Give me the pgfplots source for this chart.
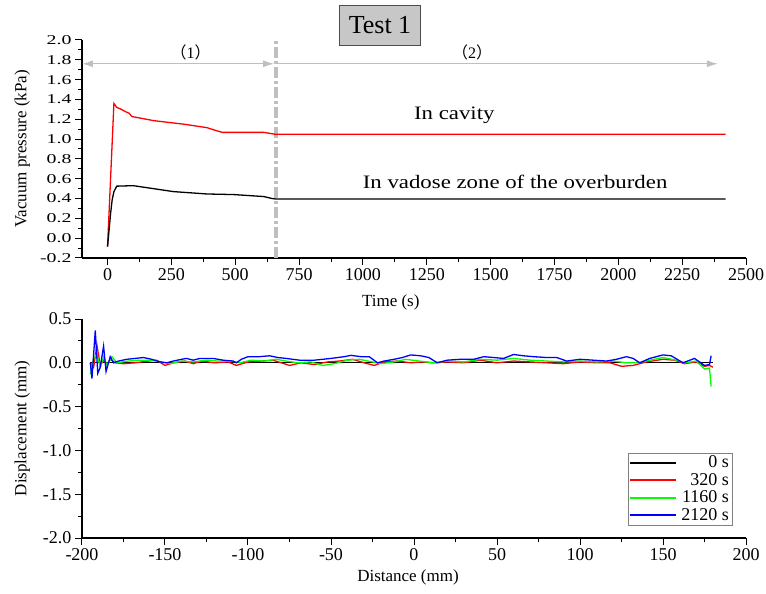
\documentclass[border=0pt]{standalone}
\usepackage{fontspec}
\setmainfont{Liberation Serif}
\newfontfamily\cjk{Noto Sans CJK SC}
\newfontfamily\widefont{Liberation Serif}[FakeStretch=1.2]
\usepackage{pgfplots}
\pgfplotsset{compat=1.18}
\usetikzlibrary{arrows.meta}

\begin{document}
\begin{tikzpicture}
\useasboundingbox (-82pt,-336pt) rectangle (684pt,258pt);
\pgfplotsset{
  myax/.style={
    scale only axis, width=664pt,
    axis x line*=bottom, axis y line*=left,
    tick align=outside,
    major tick length=7pt, minor tick length=4pt,
    every tick/.style={black, line width=1pt},
    axis line style={line width=1.2pt},
    tick label style={font=\fontsize{18}{20}\selectfont},
    label style={font=\fontsize{17}{19}\selectfont},
    /pgf/number format/assume math mode=true,
    /pgf/number format/1000 sep={},
    scaled ticks=false,
    clip=false,
  }
}

% ---------- top axis ----------
\begin{axis}[myax, height=218pt,
  xmin=-100, xmax=2500, ymin=-0.2, ymax=2.0,
  xtick={0,250,500,750,1000,1250,1500,1750,2000,2250,2500},
  minor x tick num=1,
  ytick={-0.2,0,0.2,0.4,0.6,0.8,1.0,1.2,1.4,1.6,1.8,2.0},
  minor y tick num=1,
  yticklabel={\scalebox{1.1}[0.75]{\pgfmathprintnumber[fixed,fixed zerofill,precision=1]{\tick}}},
  xlabel={Time (s)},
  ylabel={Vacuum pressure (kPa)},
  xlabel style={at={(axis description cs:0.465,-0.206)}, anchor=center},
  ylabel style={at={(axis description cs:-0.09,0.5)}, anchor=center},
]
\draw[black!25, line width=3.5pt, dash pattern=on 11pt off 3pt on 3pt off 3pt]
  (axis cs:660,-0.2) -- (axis cs:660,2.0);
\draw[black!25, line width=1.2pt, {Latex[length=11pt,width=7pt]}-{Latex[length=11pt,width=7pt]}]
  (axis cs:-100,1.76) -- (axis cs:652,1.76);
\draw[black!25, line width=1.2pt, -{Latex[length=11pt,width=7pt]}]
  (axis cs:668,1.76) -- (axis cs:2390,1.76);

\addplot[red, line width=1.3pt] coordinates {
  (0,-0.086) (25,1.36) (36,1.32) (50,1.305) (71,1.276) (85,1.26) (95,1.228)
  (181,1.186) (300,1.15) (390,1.115) (420,1.09) (449,1.068) (612,1.068)
  (658,1.048) (2420,1.048)
};
\addplot[black, line width=1.3pt] coordinates {
  (0,-0.086) (12,0.25) (18,0.385) (25,0.47) (36,0.525) (101,0.53) (258,0.47)
  (390,0.446) (495,0.44) (612,0.42) (645,0.40) (660,0.395) (2420,0.395)
};

\node[font=\widefont\fontsize{19}{21}\selectfont] at (axis cs:1358,1.243) {In cavity};
\node[font=\widefont\fontsize{19}{21}\selectfont] at (axis cs:1596,0.567) {In vadose zone of the overburden};
\node[font=\fontsize{16}{18}\selectfont] at (axis cs:325,1.87) {{\cjk （}1{\cjk ）}};
\node[font=\fontsize{16}{18}\selectfont] at (axis cs:1428,1.87) {{\cjk （}2{\cjk ）}};
\end{axis}

\node[draw=black!70, fill=black!22, line width=0.8pt, minimum width=81pt, minimum height=40pt, inner sep=0pt,
  font=\fontsize{26}{28}\selectfont] at (298pt,233pt) {Test 1};

% ---------- bottom axis ----------
\begin{axis}[myax, at={(0pt,-280pt)}, height=219pt,
  xmin=-200, xmax=200, ymin=-2, ymax=0.5,
  xtick={-200,-150,-100,-50,0,50,100,150,200},
  minor x tick num=1,
  ytick={-2,-1.5,-1,-0.5,0,0.5},
  minor y tick num=1,
  yticklabel={\pgfmathprintnumber[fixed,fixed zerofill,precision=1]{\tick}},
  xlabel={Distance (mm)},
  ylabel={Displacement (mm)},
  xlabel style={at={(axis description cs:0.491,-0.178)}, anchor=center},
  ylabel style={at={(axis description cs:-0.09,0.5)}, anchor=center},
  legend style={at={(0.979,0.059)}, anchor=south east, draw=black!50,
    font=\fontsize{18}{20}\selectfont, inner sep=1pt,
    /tikz/every odd column/.append style={column sep=2pt}},
  legend cell align=right,
  legend image code/.code={\draw[#1, line width=1.8pt] (0pt,0pt) -- (46pt,0pt);},
]
\addplot[black, line width=1.3pt] coordinates {(-195,0) (180,0)};
\addlegendentry{0 s}

\addplot[red, line width=1.3pt] coordinates {
  (-195,0.0) (-193,-0.05) (-191,0.2) (-189,-0.03) (-187,0.03) (-185,-0.02)
  (-183,0.04) (-180,0.0) (-175,-0.01) (-168,0.0) (-160,0.02) (-155,0.03)
  (-150,-0.03) (-145,0.0) (-138,0.02) (-133,-0.01) (-128,0.02) (-120,0.0)
  (-112,0.01) (-107,-0.03) (-100,0.01) (-92,0.02) (-85,0.03) (-80,0.0)
  (-75,-0.03) (-68,0.0) (-60,-0.02) (-52,0.01) (-45,0.02) (-37,0.04)
  (-30,0.0) (-24,-0.03) (-18,0.01) (-10,0.02) (-2,0.0) (5,0.01) (12,0.0)
  (20,0.01) (30,0.0) (40,0.03) (50,0.0) (60,0.02) (70,0.01) (80,0.0)
  (90,-0.01) (100,0.01) (110,0.0) (118,0.0) (125,-0.04) (132,-0.03)
  (140,0.01) (150,0.04) (157,0.03) (163,-0.01) (170,0.01) (175,-0.04)
  (178,-0.03) (180,-0.05)
};
\addlegendentry{320 s}

\addplot[green, line width=1.3pt] coordinates {
  (-195,-0.13) (-193,0.05) (-191,0.1) (-189,-0.05) (-187,0.07) (-185,-0.03)
  (-182,0.07) (-179,0.0) (-172,0.02) (-165,0.03) (-158,0.03) (-152,0.01)
  (-147,-0.01) (-140,0.02) (-133,0.01) (-125,0.03) (-118,0.02) (-110,0.02)
  (-105,0.0) (-98,0.03) (-90,0.02) (-83,0.04) (-77,0.02) (-70,0.0)
  (-62,0.01) (-55,-0.03) (-48,-0.01) (-40,0.03) (-33,0.04) (-25,0.01)
  (-20,-0.01) (-12,0.01) (-5,0.04) (3,0.02) (12,0.0) (20,0.02) (30,0.01)
  (40,0.04) (50,0.03) (60,0.05) (70,0.03) (80,0.02) (90,0.01) (100,0.02)
  (110,0.01) (120,0.02) (128,0.0) (135,0.0) (142,0.03) (150,0.06)
  (158,0.03) (163,0.0) (170,0.02) (175,-0.07) (178,-0.06) (179,-0.27)
};
\addlegendentry{1160 s}

\addplot[blue, line width=1.3pt] coordinates {
  (-195,0.0) (-194,-0.18) (-192,0.37) (-190.5,-0.12) (-189,-0.05) (-187,0.19)
  (-185.5,-0.10) (-183,0.07) (-181,0.0) (-178,0.02) (-173,0.04) (-168,0.05)
  (-163,0.06) (-158,0.04) (-153,0.01) (-149,0.0) (-145,0.02) (-140,0.04)
  (-137,0.05) (-133,0.03) (-129,0.05) (-121,0.05) (-115,0.03) (-109,0.02)
  (-107,0.0) (-104,0.04) (-100,0.07) (-93,0.07) (-87,0.08) (-82,0.06)
  (-77,0.05) (-69,0.03) (-60,0.03) (-50,0.05) (-42,0.07) (-38,0.085)
  (-32,0.07) (-27,0.07) (-22,0.0) (-18,0.02) (-12,0.04) (-7,0.06) (-2,0.09)
  (4,0.08) (9,0.06) (14,0.0) (20,0.03) (28,0.04) (36,0.04) (42,0.07)
  (48,0.06) (54,0.05) (60,0.095) (66,0.08) (72,0.07) (80,0.06) (86,0.06)
  (92,0.02) (100,0.04) (108,0.03) (116,0.02) (122,0.04) (128,0.07)
  (132,0.05) (136,0.0) (142,0.05) (150,0.09) (155,0.08) (162,0.0)
  (169,0.05) (175,-0.03) (178,-0.02) (179,0.08)
};
\addlegendentry{2120 s}
\end{axis}
\end{tikzpicture}
\end{document}
